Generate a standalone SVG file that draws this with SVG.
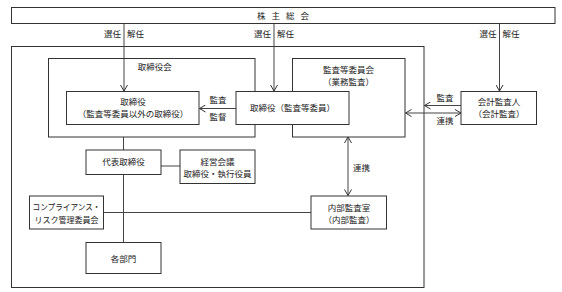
<svg xmlns="http://www.w3.org/2000/svg" width="562" height="292" viewBox="0 0 562 292">
<defs>
<style>
.box{fill:#fff;stroke:#333;stroke-width:1}
.frame{fill:none;stroke:#333;stroke-width:1}
.ln{fill:none;stroke:#444;stroke-width:1}
text{font-family:"Noto Sans CJK JP","Noto Sans CJK SC",sans-serif;font-size:8.5px;fill:#222}
.c{text-anchor:middle}
.e{text-anchor:end}
</style>
<marker id="ah" viewBox="0 0 8 8" refX="7" refY="4" markerWidth="8" markerHeight="8" markerUnits="userSpaceOnUse" orient="auto-start-reverse">
<path d="M1,0.5 L7,4 L1,7.5" fill="none" stroke="#333" stroke-width="1"/>
</marker>
</defs>
<rect width="562" height="292" fill="#fff"/>

<g id="frames">
<rect class="frame" x="11.5" y="46.5" width="412.5" height="241"/>
</g>

<g id="connectors">
<line class="ln" x1="124" y1="23.5" x2="124" y2="91" marker-end="url(#ah)"/>
<line class="ln" x1="274" y1="23.5" x2="274" y2="91" marker-end="url(#ah)"/>
<line class="ln" x1="499.5" y1="23.5" x2="499.5" y2="91" marker-end="url(#ah)"/>
<line class="ln" x1="236" y1="108.5" x2="199.5" y2="108.5" marker-end="url(#ah)"/>
<line class="ln" x1="461" y1="105.5" x2="424.5" y2="105.5" marker-end="url(#ah)"/>
<line class="ln" x1="405.5" y1="113" x2="461" y2="113" marker-start="url(#ah)" marker-end="url(#ah)"/>
<line class="ln" x1="348" y1="137" x2="348" y2="195.5" marker-start="url(#ah)" marker-end="url(#ah)"/>
<line class="ln" x1="123.5" y1="137" x2="123.5" y2="242.5"/>
<line class="ln" x1="161" y1="166" x2="180" y2="166"/>
<line class="ln" x1="103.5" y1="212.5" x2="311" y2="212.5"/>
</g>

<g id="kabunushi">
<rect class="box" x="11.5" y="7.5" width="543.5" height="16"/>
<text class="c" x="283" y="18.5" textLength="52" lengthAdjust="spacing">株 主 総 会</text>
</g>
<g id="labels-top">
<text class="e" x="121" y="36.5">選任</text><text x="127" y="36.5">解任</text>
<text class="e" x="271" y="36.5">選任</text><text x="277" y="36.5">解任</text>
<text class="e" x="496.5" y="36.5">選任</text><text x="502.5" y="36.5">解任</text>
</g>

<g id="torishimariyakukai">
<rect class="frame" x="48.5" y="58.5" width="206.5" height="78.5"/>
<text class="c" x="154.7" y="70">取締役会</text>
</g>
<g id="torishimariyaku">
<rect class="box" x="66.5" y="91.5" width="132.5" height="33"/>
<text class="c" x="133" y="104.5">取締役</text>
<text class="c" x="133" y="116.5">（監査等委員以外の取締役）</text>
</g>
<g id="label-kansa-kantoku">
<text class="c" x="218" y="103">監査</text>
<text class="c" x="218" y="120">監督</text>
</g>
<g id="kansatoiinkai">
<rect class="frame" x="292.5" y="58.5" width="112.5" height="78.5"/>
<text class="c" x="348.5" y="72.5">監査等委員会</text>
<text class="c" x="348.5" y="84.5">（業務監査）</text>
</g>
<g id="torishimariyaku-kansa">
<rect class="box" x="236" y="91.5" width="113" height="33"/>
<text class="c" x="292.5" y="111">取締役（監査等委員）</text>
</g>
<g id="kaikeikansanin">
<rect class="box" x="461" y="91.5" width="75.5" height="33"/>
<text class="c" x="499" y="105">会計監査人</text>
<text class="c" x="499" y="117">（会計監査）</text>
</g>
<g id="label-right">
<text class="c" x="445" y="101">監査</text>
<text class="c" x="445" y="123.5">連携</text>
<text x="353" y="170.5">連携</text>
</g>
<g id="daihyo">
<rect class="box" x="86" y="150" width="75" height="24.5"/>
<text class="c" x="123.5" y="165">代表取締役</text>
</g>
<g id="keiei">
<rect class="box" x="180" y="150" width="75" height="33.5"/>
<text class="c" x="217.5" y="164.5">経営会議</text>
<text class="c" x="217.5" y="176.5">取締役・執行役員</text>
</g>
<g id="compliance">
<rect class="box" x="29.5" y="196" width="74" height="33"/>
<text class="c" x="66.5" y="210" textLength="68" lengthAdjust="spacingAndGlyphs">コンプライアンス・</text>
<text class="c" x="66.5" y="222.5" textLength="64" lengthAdjust="spacingAndGlyphs">リスク管理委員会</text>
</g>
<g id="naibu">
<rect class="box" x="311" y="196" width="75.5" height="33"/>
<text class="c" x="349" y="210.5">内部監査室</text>
<text class="c" x="349" y="222.5">（内部監査）</text>
</g>
<g id="kakubumon">
<rect class="box" x="86" y="242.5" width="75" height="31"/>
<text class="c" x="123.5" y="261.5">各部門</text>
</g>
</svg>
